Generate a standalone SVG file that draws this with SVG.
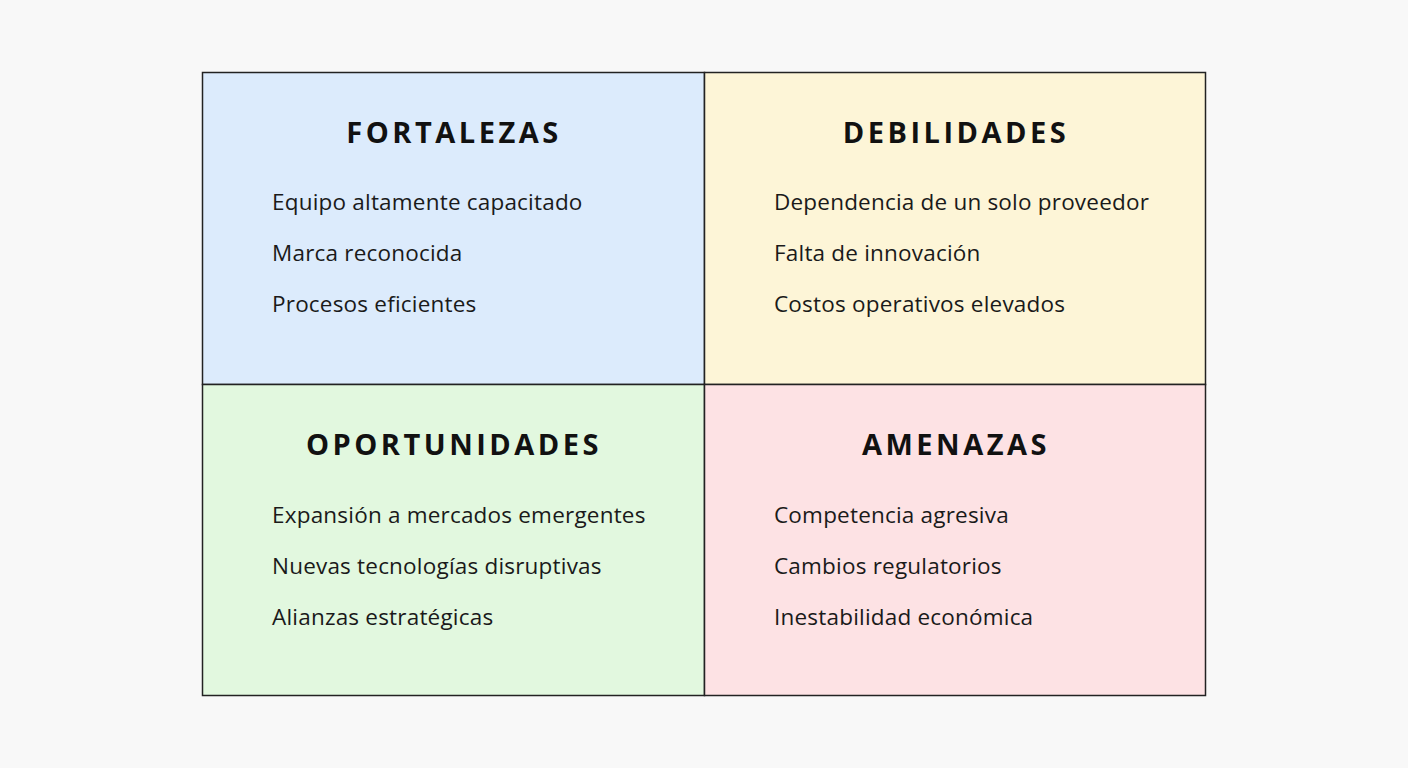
<svg xmlns="http://www.w3.org/2000/svg" width="1408" height="768" viewBox="0 0 1408 768">
<style>
.t{font-family:"Open Sans","Liberation Sans",sans-serif;font-weight:700;font-size:29px;letter-spacing:3.5px;fill:#111;text-anchor:middle}
.i{font-family:"Open Sans","Liberation Sans",sans-serif;font-size:22.5px;letter-spacing:0.2px;fill:#1a1a1a}
.c{stroke:#222;stroke-width:1.5}
</style>
<rect width="1408" height="768" fill="#f8f8f8"/>
<g id="fortalezas">
<rect class="c" x="202.5" y="72.5" width="502" height="312" fill="#dcebfc"/>
<text class="t" x="454" y="143">FORTALEZAS</text>
<text class="i" x="272" y="210">Equipo altamente capacitado</text>
<text class="i" x="272" y="261">Marca reconocida</text>
<text class="i" x="272" y="312">Procesos eficientes</text>
</g>
<g id="debilidades">
<rect class="c" x="704.5" y="72.5" width="501" height="312" fill="#fdf5d7"/>
<text class="t" x="956" y="143">DEBILIDADES</text>
<text class="i" x="774" y="210">Dependencia de un solo proveedor</text>
<text class="i" x="774" y="261">Falta de innovación</text>
<text class="i" x="774" y="312">Costos operativos elevados</text>
</g>
<g id="oportunidades">
<rect class="c" x="202.5" y="384.5" width="502" height="311" fill="#e2f8df"/>
<text class="t" x="454" y="455">OPORTUNIDADES</text>
<text class="i" x="272" y="523">Expansión a mercados emergentes</text>
<text class="i" x="272" y="574">Nuevas tecnologías disruptivas</text>
<text class="i" x="272" y="625">Alianzas estratégicas</text>
</g>
<g id="amenazas">
<rect class="c" x="704.5" y="384.5" width="501" height="311" fill="#fde2e4"/>
<text class="t" x="956" y="455">AMENAZAS</text>
<text class="i" x="774" y="523">Competencia agresiva</text>
<text class="i" x="774" y="574">Cambios regulatorios</text>
<text class="i" x="774" y="625">Inestabilidad económica</text>
</g>
<g id="connectors"></g>
</svg>
